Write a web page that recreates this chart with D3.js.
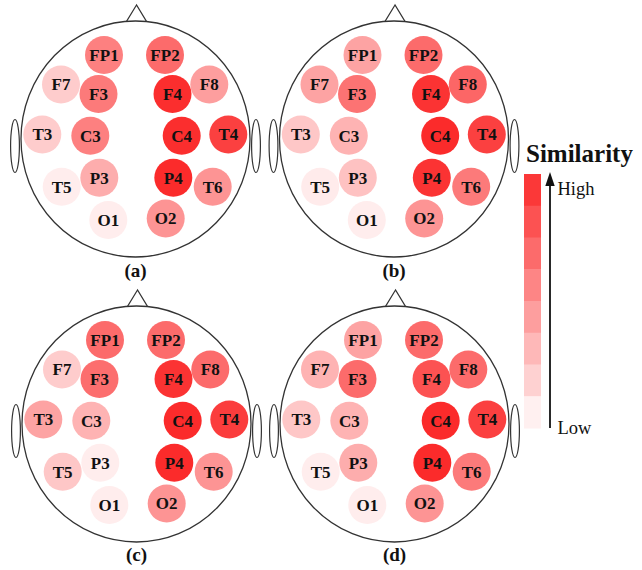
<!DOCTYPE html>
<html><head><meta charset="utf-8">
<script src="https://cdn.jsdelivr.net/npm/d3@7/dist/d3.min.js"></script>
<style>body{margin:0;background:#fff}svg{display:block}</style>
</head><body>
<svg id="chart" width="642" height="570"></svg>
<script>
// ---- data ----
const electrodes = ["FP1","FP2","F7","F3","F4","F8","T3","C3","C4","T4","T5","P3","P4","T6","O1","O2"];
const panels = ["(a)","(b)","(c)","(d)"];
const simA = [0.50,0.58,0.20,0.52,0.82,0.38,0.20,0.50,0.82,0.75,0.07,0.32,0.83,0.42,0.07,0.42];
const simB = [0.36,0.58,0.36,0.55,0.80,0.60,0.22,0.30,0.83,0.75,0.08,0.24,0.80,0.52,0.07,0.42];
const simC = [0.58,0.58,0.20,0.57,0.80,0.58,0.36,0.30,0.83,0.76,0.22,0.07,0.83,0.42,0.07,0.42];
const simD = [0.36,0.58,0.30,0.58,0.68,0.58,0.22,0.30,0.83,0.75,0.07,0.32,0.83,0.52,0.07,0.42];
const legendLevels = [0.78,0.68,0.58,0.48,0.38,0.28,0.18,0.06];
const legendTitle = "Similarity";
const legendHigh = "High", legendLow = "Low";

// ---- layout (electrode positions relative to head centre) ----
const layout = {
  FP1:[-31.5,-84], FP2:[29.5,-84],
  F7:[-74.5,-54.5], F3:[-37,-45], F4:[37,-45], F8:[73.8,-54.5],
  T3:[-93.2,-4.5], C3:[-45.2,-3.3], C4:[46.2,-3.3], T4:[92.8,-4.5],
  T5:[-73.8,47.7], P3:[-36.2,38.7], P4:[37.8,38.7], T6:[77.2,47.7],
  O1:[-27.2,81], O2:[30.2,79.5]
};
const heads = [
  {cx:135.5, cy:139, vals:simA, label:panels[0], ly:277},
  {cx:394,   cy:139, vals:simB, label:panels[1], ly:277},
  {cx:136.5, cy:424, vals:simC, label:panels[2], ly:561},
  {cx:394.5, cy:424, vals:simD, label:panels[3], ly:561}
];

const color = d3.scaleLinear().domain([0,1]).range(["#ffffff","#fa0000"]);
const serif = "'Liberation Serif','Times New Roman',Times,serif";
const stroke = "#333";

const svg = d3.select("#chart");

heads.forEach(h => {
  const g = svg.append("g").attr("transform", `translate(${h.cx},${h.cy})`);
  g.append("path")
    .attr("d", "M1,-134 L-9,-117.5 L11,-117.5 Z")
    .attr("fill","#fff").attr("stroke",stroke).attr("stroke-width",1.2);
  [-120.5, 120.5].forEach(x => {
    g.append("ellipse").attr("cx",x).attr("cy",7).attr("rx",4.4).attr("ry",26.5)
      .attr("fill","#fff").attr("stroke",stroke).attr("stroke-width",1.2);
  });
  g.append("ellipse").attr("cx",0).attr("cy",0).attr("rx",114.5).attr("ry",118)
    .attr("fill","#fff").attr("stroke",stroke).attr("stroke-width",1.3);
  const e = g.selectAll("g.el").data(electrodes.map((n,i)=>({name:n, v:h.vals[i]})))
    .enter().append("g").attr("class","el")
    .attr("transform", d => `translate(${layout[d.name][0]},${layout[d.name][1]})`);
  e.append("circle").attr("r",19).attr("fill", d => color(d.v));
  e.append("text").text(d => d.name)
    .attr("text-anchor","middle").attr("dy","0.35em")
    .attr("font-family",serif).attr("font-weight","bold").attr("font-size",17)
    .attr("fill","#111");
  svg.append("text").text(h.label)
    .attr("x", h.cx).attr("y", h.ly)
    .attr("text-anchor","middle")
    .attr("font-family",serif).attr("font-weight","bold").attr("font-size",19)
    .attr("fill","#111");
});

// ---- legend ----
const lg = svg.append("g");
const ly = d3.scaleBand().domain(d3.range(legendLevels.length)).range([174,428]);
lg.selectAll("rect").data(legendLevels).enter().append("rect")
  .attr("x",524).attr("width",17)
  .attr("y",(d,i)=>ly(i)).attr("height",ly.bandwidth()+0.5)
  .attr("fill", d => color(d));
lg.append("line").attr("x1",550).attr("x2",550).attr("y1",428).attr("y2",184)
  .attr("stroke","#111").attr("stroke-width",1.8);
lg.append("path").attr("d","M550,172 L545.3,186 L554.7,186 Z").attr("fill","#111");
lg.append("text").text(legendTitle).attr("x",526).attr("y",162)
  .attr("font-family",serif).attr("font-weight","bold").attr("font-size",25).attr("fill","#111");
lg.append("text").text(legendHigh).attr("x",557.5).attr("y",195)
  .attr("font-family",serif).attr("font-size",18.5).attr("fill","#111");
lg.append("text").text(legendLow).attr("x",557.5).attr("y",433.5)
  .attr("font-family",serif).attr("font-size",18.5).attr("fill","#111");
</script>
</body></html>
